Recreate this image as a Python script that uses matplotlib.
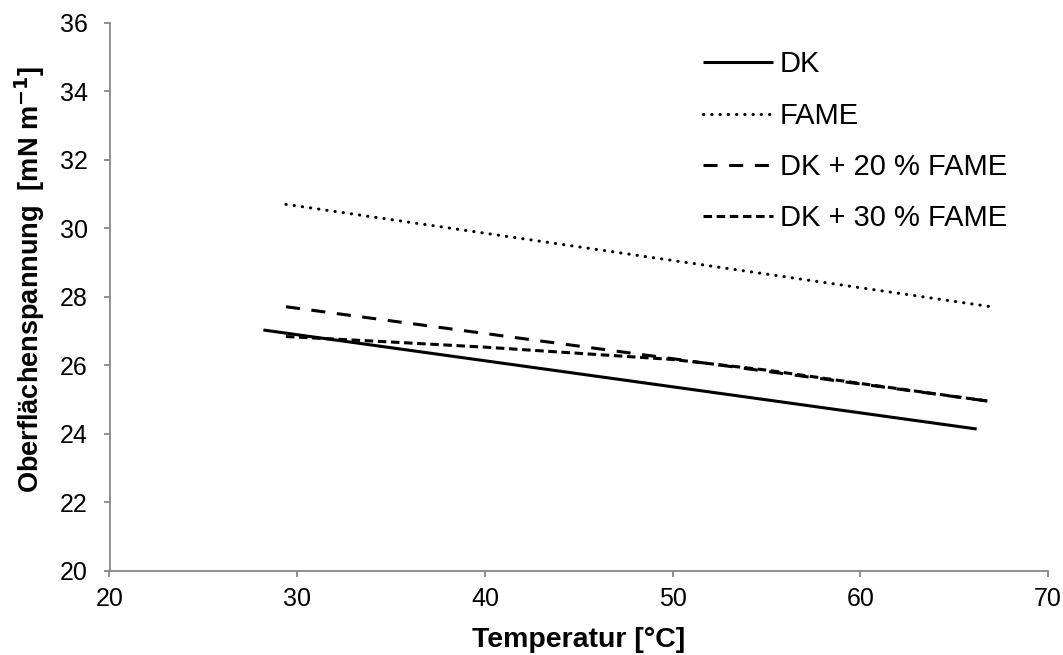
"""
Oberflächenspannung von DK, FAME und Mischungen über der Temperatur.
"""

import matplotlib
matplotlib.use("Agg")
import matplotlib.pyplot as plt

# Messreihen (Temperatur in °C, Oberflächenspannung in mN/m)
t_dk = [28.2, 66.2]
s_dk = [27.03, 24.14]

t_fame = [29.4, 67.1]
s_fame = [30.70, 27.70]

t_dk20 = [29.4, 67.0]
s_dk20 = [27.71, 24.94]

t_dk30 = [29.4, 35.0, 40.0, 45.0, 50.0, 55.0, 60.0, 67.0]
s_dk30 = [26.84, 26.68, 26.53, 26.35, 26.17, 25.86, 25.47, 24.94]

plt.rcParams["font.family"] = ["Liberation Sans", "DejaVu Sans"]

W, H = 1063, 655
fig = plt.figure(figsize=(W / 100, H / 100), dpi=100)
ax = fig.add_axes([109.5 / W, 1 - 570.8 / H, 938.5 / W, 548 / H])

lw = 2.2
ax.plot(t_dk, s_dk, color="black", lw=lw, solid_capstyle="butt", label="DK")
ax.plot(t_fame, s_fame, color="black", lw=lw, linestyle=(0, (0.1, 2.6)),
        dash_capstyle="round", label="FAME")
ax.plot(t_dk20, s_dk20, color="black", lw=lw, linestyle=(0, (4.6, 3.8)),
        dash_capstyle="butt", label="DK + 20 % FAME")
ax.plot(t_dk30, s_dk30, color="black", lw=lw, linestyle=(0, (2.8, 1.5)),
        dash_capstyle="butt", label="DK + 30 % FAME")

ax.set_xlim(20, 70)
ax.set_ylim(20, 36)
ax.set_xticks(range(20, 71, 10))
ax.set_yticks(range(20, 37, 2))

grey = "#868686"
for side in ("top", "right"):
    ax.spines[side].set_visible(False)
for side in ("left", "bottom"):
    ax.spines[side].set_color(grey)
    ax.spines[side].set_linewidth(1.3)
ax.tick_params(direction="out", length=4.5, width=1.3, color=grey, labelsize=18)
ax.tick_params(axis="x", pad=7)
ax.tick_params(axis="y", pad=11)

ax.set_xlabel("Temperatur [°C]", fontsize=20.5, fontweight="bold")
ax.set_ylabel("Oberflächenspannung  [mN m$^{\\mathbf{-1}}$]", fontsize=19.5,
              fontweight="bold")
ax.xaxis.set_label_coords(0.5, -0.103)
ax.yaxis.set_label_coords(-0.067, 0.531)

ax.legend(loc="upper left", bbox_to_anchor=(703 / W, 1 - 50.5 / H),
          bbox_transform=fig.transFigure, frameon=False, fontsize=21,
          handlelength=2.4, handletextpad=0.24, labelspacing=0.8,
          borderpad=0, borderaxespad=0)

fig.savefig("out.png", dpi=100)
plt.close(fig)
